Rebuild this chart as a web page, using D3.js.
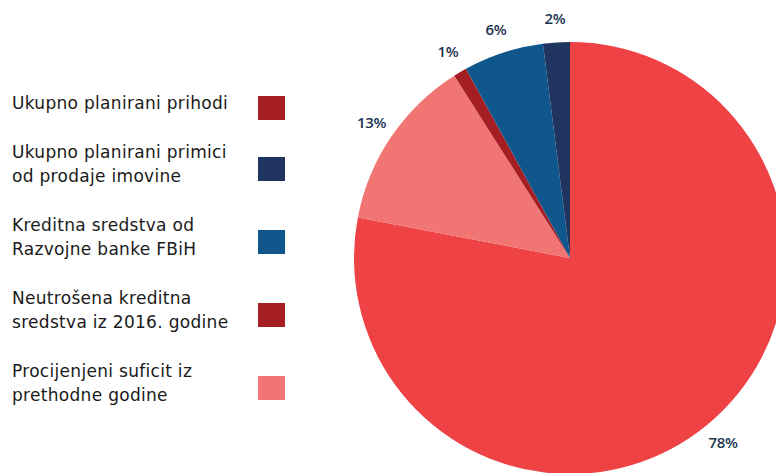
<!DOCTYPE html>
<html>
<head>
<meta charset="utf-8">
<script src="https://cdn.jsdelivr.net/npm/d3@7"></script>
<style>
  body { margin: 0; background: #fff; }
  svg { display: block; }
</style>
</head>
<body>
<svg id="chart"></svg>
<script>
// legend order
const categories = [
    ["Ukupno planirani prihodi"],
    ["Ukupno planirani primici", "od prodaje imovine"],
    ["Kreditna sredstva od", "Razvojne banke FBiH"],
    ["Neutrošena kreditna", "sredstva iz 2016. godine"],
    ["Procijenjeni suficit iz", "prethodne godine"]
];
const values = [78, 2, 6, 1, 13];
const sliceColors = ["#ee4245", "#1f3560", "#0e568c", "#a51e24", "#f07573"];
const legendColors = ["#a51e24", "#1f3560", "#0e568c", "#a51e24", "#f07573"];

const width = 776, height = 473;
const cx = 570, cy = 258, radius = 216;

const svg = d3.select("#chart")
    .attr("width", width)
    .attr("height", height);

// pie goes clockwise from the top: first item, then the rest in reverse
const order = [0, ...d3.range(1, values.length).reverse()];
const rows = order.map(i => ({ i, value: values[i] }));

const pie = d3.pie().sort(null).value(d => d.value);
const arc = d3.arc().innerRadius(0).outerRadius(radius);
const labelArc = d3.arc().innerRadius(radius + 24).outerRadius(radius + 24);

const g = svg.append("g").attr("transform", `translate(${cx}, ${cy})`);
const arcs = pie(rows);

g.selectAll("path")
    .data(arcs)
    .join("path")
    .attr("d", arc)
    .attr("fill", d => sliceColors[d.data.i]);

const total = d3.sum(values);
g.selectAll("text")
    .data(arcs)
    .join("text")
    .attr("transform", d => `translate(${labelArc.centroid(d)})`)
    .attr("text-anchor", "middle")
    .attr("dy", "0.35em")
    .attr("fill", "#1d3552")
    .style("font-family", "'Open Sans', sans-serif")
    .style("font-size", "15px")
    .style("font-weight", "600")
    .style("letter-spacing", "-0.4px")
    .text(d => Math.round(d.data.value / total * 100) + "%");

// legend
const lineH = 24, gap = 25;
const legend = svg.append("g");
let y = 91;
categories.forEach((lines, i) => {
    const blockH = lines.length * lineH;
    const item = legend.append("g");
    item.selectAll("text")
        .data(lines)
        .join("text")
        .attr("x", 12)
        .attr("y", (d, j) => y + j * lineH + lineH / 2)
        .attr("dy", "0.35em")
        .attr("fill", "#1a1a1a")
        .style("font-family", "'DejaVu Sans', sans-serif")
        .style("font-size", "17px")
        .style("letter-spacing", "0.3px")
        .text(d => d);
    item.append("rect")
        .attr("x", 258)
        .attr("y", y + blockH / 2 + 5 - 12)
        .attr("width", 27)
        .attr("height", 24)
        .attr("fill", legendColors[i]);
    y += blockH + gap;
});
</script>
</body>
</html>
